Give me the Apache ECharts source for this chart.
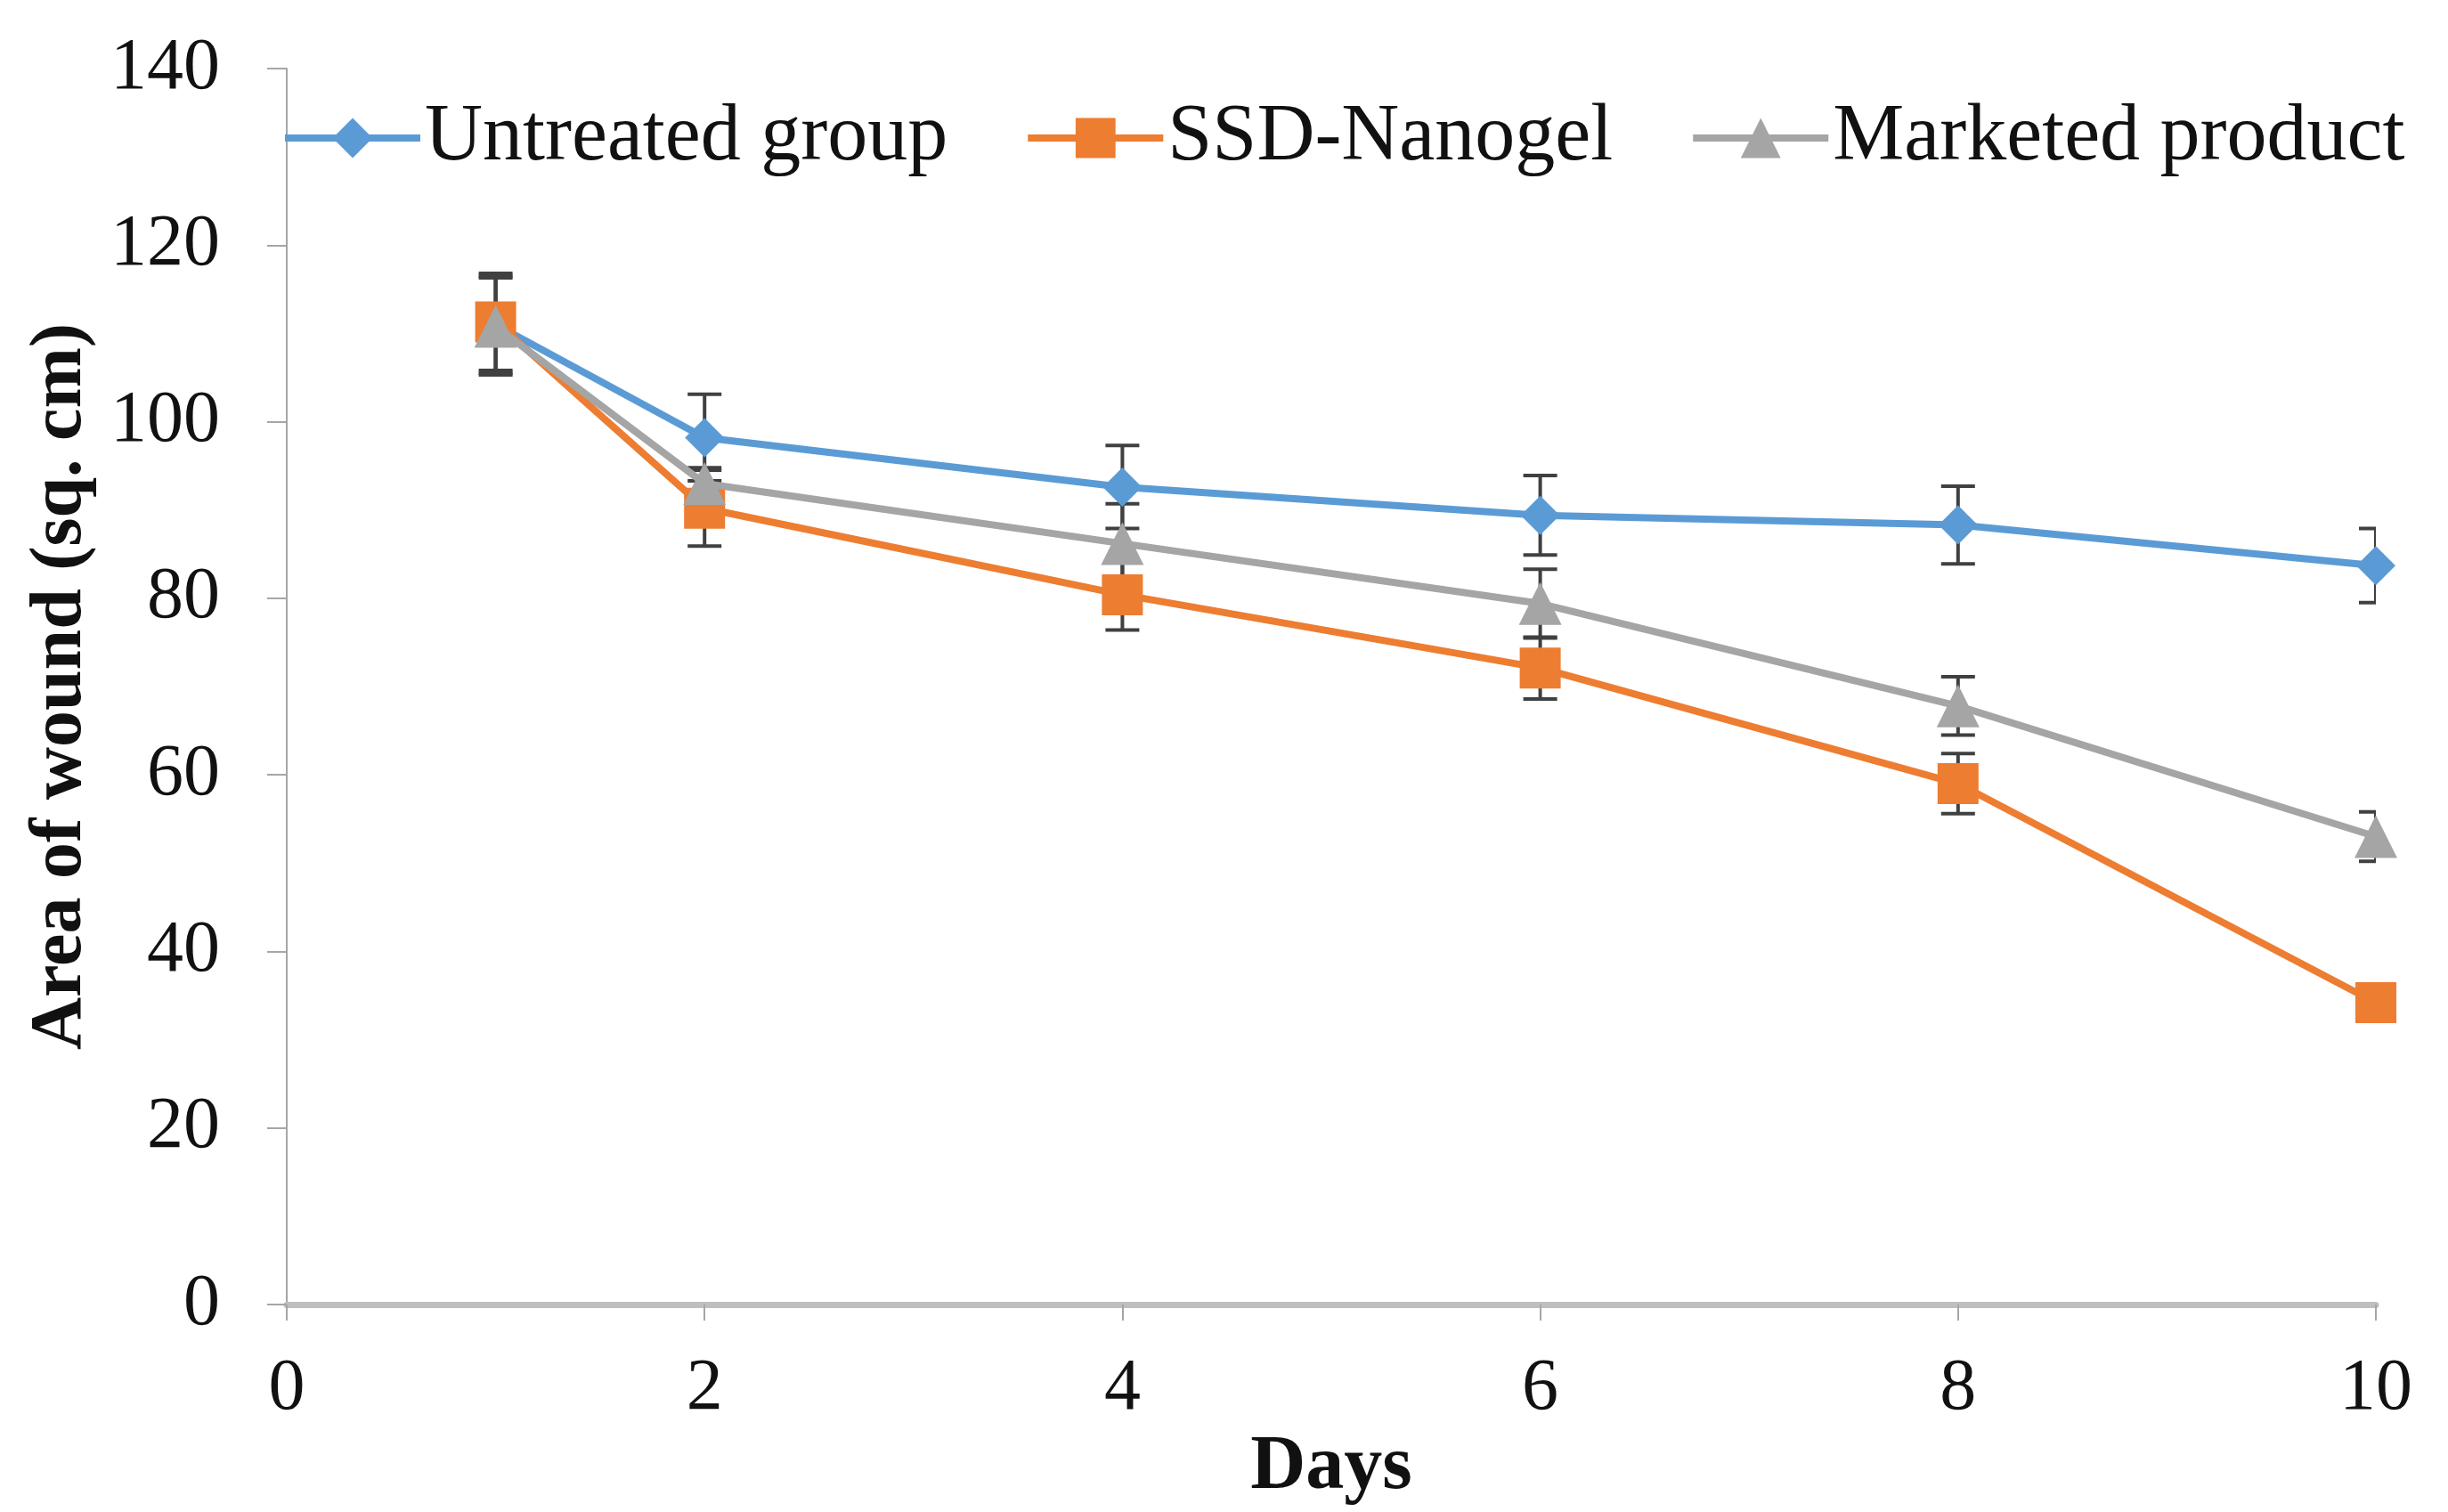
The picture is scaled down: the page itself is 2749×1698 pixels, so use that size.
<!DOCTYPE html>
<html>
<head>
<meta charset="utf-8">
<script src="https://cdn.jsdelivr.net/npm/echarts@6/dist/echarts.min.js"></script>
<style>
html,body{margin:0;padding:0;background:#fff;}
#chart{width:2749px;height:1698px;}
</style>
</head>
<body>
<div id="chart"></div>
<script>
var days = [1, 2, 4, 6, 8, 10];
var seriesNames = ['Untreated group', 'SSD-Nanogel', 'Marketed product'];
var untreated = [111.0, 98.2, 92.6, 89.4, 88.3, 83.7];
var untreatedErr = [5.5, 4.9, 4.7, 4.5, 4.4, 4.2];
var nanogel = [111.3, 90.2, 80.4, 72.1, 59.0, 34.2];
var nanogelErr = [5.5, 4.3, 4.0, 3.5, 3.4, 1.5];
var marketed = [110.8, 93.0, 86.2, 79.4, 67.8, 53.0];
var marketedErr = [5.5, 1.8, 4.5, 3.9, 3.3, 2.8];
var xTicks = [0, 2, 4, 6, 8, 10];
var yTicks = [0, 20, 40, 60, 80, 100, 120, 140];

var FONT = 'Liberation Serif';
var colors = ['#5B9BD5', '#ED7D31', '#A5A5A5'];
var symbols = ['diamond', 'rect', 'triangle'];
var sizes = [44, 46, 48];
var values = [untreated, nanogel, marketed];
var errs = [untreatedErr, nanogelErr, marketedErr];

function pairs(v) { return days.map(function (d, i) { return [d, v[i]]; }); }
function errData(v, e) { return days.map(function (d, i) { return [d, v[i], e[i]]; }); }

function renderErr(params, api) {
  var x = api.value(0), y = api.value(1), e = api.value(2);
  var t = api.coord([x, y + e]), b = api.coord([x, y - e]);
  var hw = 19;
  var st = { stroke: '#404040', lineWidth: 4 };
  return {
    type: 'group',
    children: [
      { type: 'line', shape: { x1: t[0], y1: t[1], x2: b[0], y2: b[1] }, style: st },
      { type: 'line', shape: { x1: t[0] - hw, y1: t[1], x2: t[0] + hw, y2: t[1] }, style: st },
      { type: 'line', shape: { x1: b[0] - hw, y1: b[1], x2: b[0] + hw, y2: b[1] }, style: st }
    ]
  };
}

var series = [];
for (var i = 0; i < 3; i++) {
  series.push({
    name: seriesNames[i] + ' err',
    type: 'custom',
    renderItem: renderErr,
    data: errData(values[i], errs[i]),
    encode: { x: 0, y: 1 },
    clip: true,
    silent: true,
    z: 1
  });
}
for (var j = 0; j < 3; j++) {
  series.push({
    name: seriesNames[j],
    type: 'line',
    data: pairs(values[j]),
    symbol: symbols[j],
    symbolSize: sizes[j],
    showAllSymbol: true,
    clip: false,
    lineStyle: { color: colors[j], width: 8 },
    itemStyle: { color: colors[j] },
    z: 2 + j
  });
}

var chart = echarts.init(document.getElementById('chart'));
chart.setOption({
  animation: false,
  backgroundColor: '#fff',
  color: colors,
  grid: { left: 322, right: 81, top: 77, bottom: 233 },
  legend: {
    data: seriesNames,
    left: 311,
    top: 105,
    itemWidth: 152,
    itemHeight: 56,
    itemGap: 86,
    lineStyle: { width: 8 },
    textStyle: { fontFamily: FONT, fontSize: 90, color: '#111', padding: [0, 0, 0, 0] }
  },
  xAxis: {
    type: 'value',
    min: 0, max: 10, interval: 2,
    name: 'Days',
    nameLocation: 'middle',
    nameGap: 122,
    nameTextStyle: { fontFamily: FONT, fontSize: 86, fontWeight: 'bold', color: '#111' },
    axisLine: { show: true, lineStyle: { color: '#bfbfbf', width: 7 } },
    axisTick: { show: true, length: 18, lineStyle: { color: '#a6a6a6', width: 2 } },
    axisLabel: {
      fontFamily: FONT, fontSize: 82, color: '#111', margin: 54,
      formatter: function (v) { return xTicks.indexOf(v) >= 0 ? String(v) : ''; }
    },
    splitLine: { show: false }
  },
  yAxis: {
    type: 'value',
    min: 0, max: 140, interval: 20,
    name: 'Area of wound (sq. cm)',
    nameLocation: 'middle',
    nameGap: 212,
    nameTextStyle: { fontFamily: FONT, fontSize: 82, fontWeight: 'bold', color: '#111' },
    axisLine: { show: true, lineStyle: { color: '#a6a6a6', width: 2 } },
    axisTick: { show: true, length: 22, lineStyle: { color: '#a6a6a6', width: 2 } },
    axisLabel: {
      fontFamily: FONT, fontSize: 82, color: '#111', margin: 75,
      formatter: function (v) { return yTicks.indexOf(v) >= 0 ? String(v) : ''; }
    },
    splitLine: { show: false }
  },
  series: series
});
</script>
</body>
</html>
